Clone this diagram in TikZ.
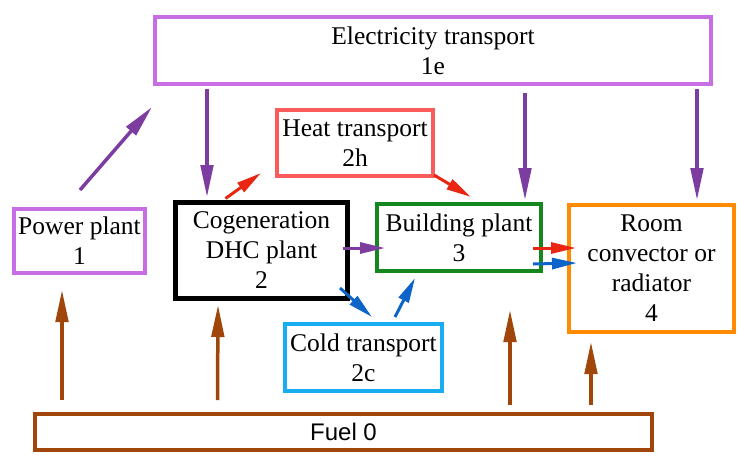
\documentclass[tikz,border=0pt]{standalone}
\usepackage{fontspec}
\setmainfont{Liberation Serif}
\newfontfamily\fuelfont{Liberation Sans}
\usetikzlibrary{calc,arrows.meta}
\definecolor{elecbox}{RGB}{200,110,228}
\definecolor{elecarrow}{RGB}{125,60,160}
\definecolor{heatbox}{RGB}{250,92,92}
\definecolor{heatarrow}{RGB}{232,38,18}
\definecolor{coldbox}{RGB}{24,172,240}
\definecolor{coldarrow}{RGB}{12,100,200}
\definecolor{bldbox}{RGB}{20,135,30}
\definecolor{roombox}{RGB}{255,140,0}
\definecolor{fuelbrown}{RGB}{160,70,10}
\tikzset{
	box/.style={draw, line width=4pt, inner sep=0pt, outer sep=0pt, align=center, font=\fontsize{25.5}{30}\selectfont},
	flow/.style={line width=3.5pt, -{Triangle[length=32pt,width=12.5pt]}},
	shortflow/.style={line width=3pt, -{Triangle[length=25pt,width=11pt]}},
}

\begin{document}
\begin{tikzpicture}[x=1pt, y=-1pt]
		%%%%% START %%%%%
		\useasboundingbox (0,0) rectangle (748,467);
		
		\node[box, draw=elecbox, minimum width=556pt, minimum height=67pt] (elec) at (433,50.5) {Electricity transport\\1e};
		\node[box, draw=elecbox, minimum width=131pt, minimum height=64pt] (power) at (79.5,241) {Power plant\\1};
		\node[box, draw=black, line width=5pt, minimum width=172pt, minimum height=96pt] (cogen) at (261.5,250.5) {Cogeneration\\DHC plant\\2};
		\node[box, draw=heatbox, minimum width=156pt, minimum height=66pt] (heat) at (355,143) {Heat transport\\2h};
		\node[box, draw=bldbox, minimum width=164pt, minimum height=67pt] (build) at (459,237.5) {Building plant\\3};
		\node[box, draw=roombox, minimum width=165pt, minimum height=127pt] (room) at (651.5,268.5) {Room\\convector or\\radiator\\4};
		\node[box, draw=coldbox, minimum width=157pt, minimum height=67pt] (cold) at (363.5,357.5) {Cold transport\\2c};
		\node[box, draw=fuelbrown, line width=3.5pt, minimum width=617pt, minimum height=36pt, font=\fuelfont\fontsize{24}{28}\selectfont] (fuel) at (343.5,432) {Fuel 0};
		
		% electricity
		\draw[flow, elecarrow] ($(power.north)+(0.5,-19)$) -- ($(elec.south west)+(-3,23)$);
		\draw[flow, elecarrow] ($(elec.south west)+(52,5)$) -- ($(cogen.north west)+(31.5,-5.5)$);
		\draw[flow, elecarrow] ($(elec.south west)+(370,9)$) -- ($(build.north east)+(-16,-4)$);
		\draw[flow, elecarrow] ($(elec.south west)+(542,5)$) -- ($(room.north east)+(-37,-5)$);
		\draw[shortflow, elecarrow] ($(cogen.east)+(-5,-2.5)$) -- ($(build.west)+(8,10.5)$);
		
		% heat
		\draw[shortflow, heatarrow] ($(cogen.north west)+(50,-4)$) -- ($(heat.south west)+(-16,-3)$);
		\draw[shortflow, heatarrow] ($(heat.south east)+(1,-1)$) -- ($(build.north west)+(94,-7)$);
		\draw[shortflow, heatarrow] ($(build.east)+(-8,10.5)$) -- ($(room.west)+(7,-20.5)$);
		
		% cold
		\draw[shortflow, coldarrow] ($(cogen.south east)+(-7.5,-10.5)$) -- ($(cold.north)+(8.5,-7)$);
		\draw[shortflow, coldarrow] ($(cold.north)+(31.5,-7)$) -- ($(build.south west)+(38,7)$);
		\draw[shortflow, coldarrow] ($(build.east)+(-8,26.5)$) -- ($(room.west)+(8,-5.5)$);
		
		% fuel
		\draw[flow, fuelbrown] ($(fuel.north west)+(27,-14)$) -- ($(power.south west)+(48,17)$);
		\draw[flow, fuelbrown] ($(fuel.north west)+(182.5,-14)$) -- ($(cogen.south west)+(42.5,6.5)$);
		\draw[flow, fuelbrown] ($(fuel.north west)+(475,-9)$) -- ($(build.south east)+(-31,39)$);
		\draw[flow, fuelbrown] ($(fuel.north west)+(556,-9)$) -- ($(room.south west)+(22,10)$);
		%%%%% END %%%%%
\end{tikzpicture}
\end{document}
